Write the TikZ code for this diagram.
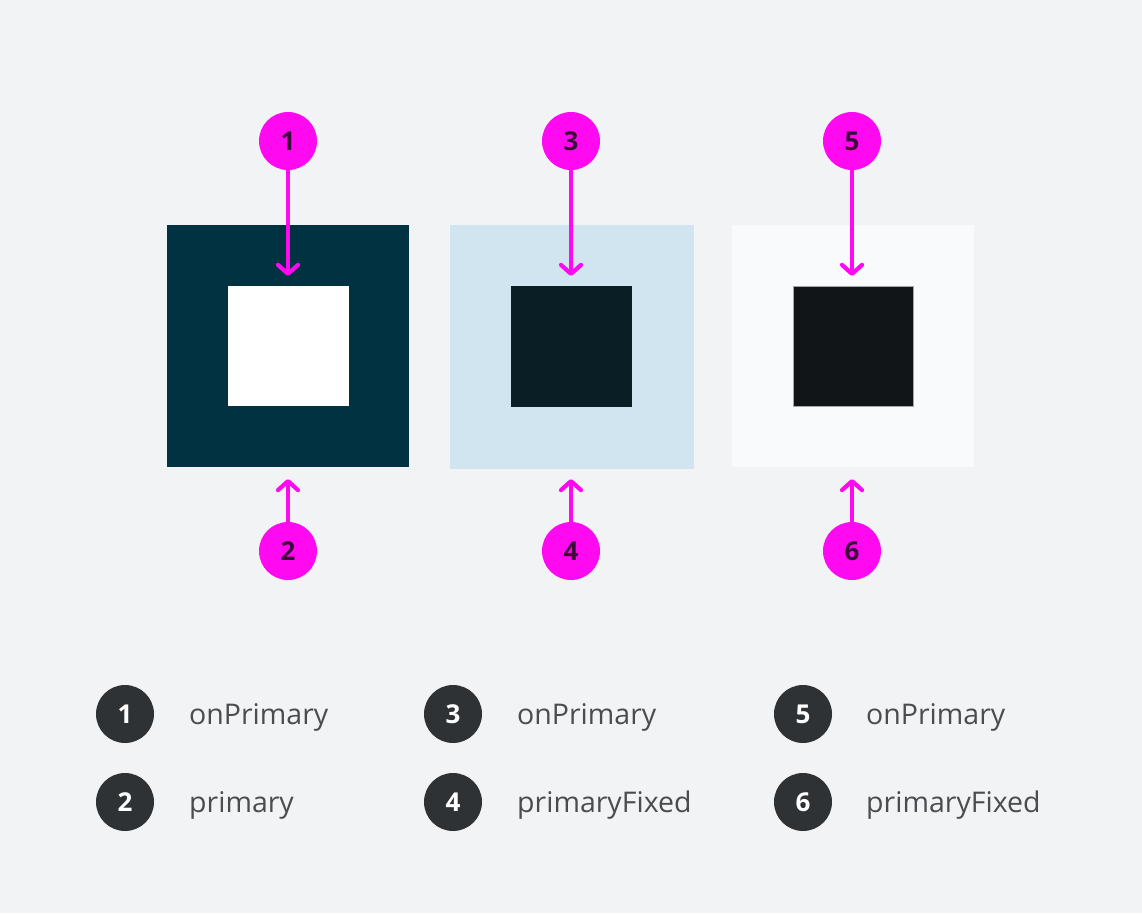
\documentclass[tikz,border=0pt]{standalone}
\usepackage{fontspec}
\setmainfont{Open Sans}
\usetikzlibrary{arrows.meta, positioning}
\definecolor{bgGray}{HTML}{F2F3F5}
\definecolor{mMagenta}{HTML}{FF0AF0}
\definecolor{mMagText}{HTML}{3A0A3A}
\definecolor{mPrimary}{HTML}{003241}
\definecolor{mFixed}{HTML}{D1E5F0}
\definecolor{mOnFixed}{HTML}{0A1E26}
\definecolor{mPaper}{HTML}{F9FAFC}
\definecolor{mInk}{HTML}{121517}
\definecolor{mBadge}{HTML}{2F3234}
\definecolor{mLabel}{HTML}{4A4D50}

\tikzset{
  pin/.style={circle, fill=mMagenta, minimum size=58pt, inner sep=0pt, text=mMagText, font=\fontsize{26}{30}\selectfont\bfseries},
  badge/.style={circle, fill=mBadge, minimum size=58pt, inner sep=0pt, text=white, font=\fontsize{26}{30}\selectfont\bfseries},
  legend/.style={anchor=west, text=mLabel, font=\fontsize{28.5}{32}\selectfont, inner sep=0pt},
  arrow/.style={draw=mMagenta, line width=4.2pt, line cap=round, -{Straight Barb[length=9pt, width=20pt, line width=4.2pt, round]}}
}

\begin{document}
\begin{tikzpicture}[x=1pt, y=-1pt]
    \fill[bgGray] (0,0) rectangle (1142,913);
    % swatches
    \node[fill=mPrimary, minimum width=242pt, minimum height=242pt, inner sep=0pt] (box1) at (288,346) {};
    \node[fill=white, minimum width=121pt, minimum height=120pt, inner sep=0pt] (in1) at (288,346) {};
    \node[fill=mFixed, minimum width=244pt, minimum height=244pt, inner sep=0pt] (box2) at (572,347) {};
    \node[fill=mOnFixed, minimum width=121pt, minimum height=121pt, inner sep=0pt] (in2) at (571.5,346.5) {};
    \node[fill=mPaper, minimum width=242pt, minimum height=242pt, inner sep=0pt] (box3) at (853,346) {};
    \node[fill=mInk, draw=gray!70, line width=0.8pt, minimum width=120pt, minimum height=120pt, inner sep=0pt] (in3) at (853,346) {};
    \coordinate (t1) at (288,276);
    \coordinate (t2) at (571,276);
    \coordinate (t3) at (852,276);
    \coordinate (b1) at (288,479);
    \coordinate (b2) at (571,479);
    \coordinate (b3) at (852,479);
    % pins
    \node[pin] (p1) at (288,141) {1};
    \node[pin] (p3) at (571,141) {3};
    \node[pin] (p5) at (852,141) {5};
    \node[pin] (p2) at (288,551) {2};
    \node[pin] (p4) at (571,551) {4};
    \node[pin] (p6) at (852,551) {6};
    \draw[arrow] (p1) -- (t1);
    \draw[arrow] (p3) -- (t2);
    \draw[arrow] (p5) -- (t3);
    \draw[arrow] (p2) -- (b1);
    \draw[arrow] (p4) -- (b2);
    \draw[arrow] (p6) -- (b3);
    % legend
    \node[badge] (k1) at (125,714) {1};
    \node[badge] (k2) at (125,802) {2};
    \node[badge] (k3) at (453,714) {3};
    \node[badge] (k4) at (453,802) {4};
    \node[badge] (k5) at (803,714) {5};
    \node[badge] (k6) at (803,802) {6};
    \node[legend] (l1) at (189,717) {onPrimary};
    \node[legend] (l2) at (189,805) {primary};
    \node[legend] (l3) at (517,717) {onPrimary};
    \node[legend] (l4) at (517,805) {primaryFixed};
    \node[legend] (l5) at (866,717) {onPrimary};
    \node[legend] (l6) at (866,805) {primaryFixed};
\end{tikzpicture}
\end{document}
